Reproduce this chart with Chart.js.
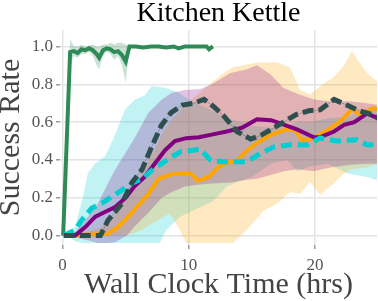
<!DOCTYPE html>
<html>
<head>
<meta charset="utf-8">
<script src="https://cdn.jsdelivr.net/npm/chart.js@4/dist/chart.umd.min.js"></script>
<style>
  html, body { margin: 0; padding: 0; background: #fff; }
  canvas { display: block; }
</style>
</head>
<body>
<canvas id="kettleChart" width="378" height="301"></canvas>
<script>
// tick labels
const xTicks = [0, 10, 20];
const yTicks = [0, 0.2, 0.4, 0.6, 0.8, 1.0];

// green (fast method)
const greenX = [0.05, 0.6, 0.9, 1.2, 1.5, 1.8, 2.1, 2.4, 2.7, 2.9, 3.2, 3.5, 3.8, 4.1, 4.4, 4.7, 5.0, 5.3, 5.8, 6.4, 7.0, 7.6, 8.2, 8.8, 9.2, 9.7, 10.3, 10.9, 11.4, 11.6, 11.9];
const greenMean = [0, 0.97, 0.975, 0.965, 0.985, 0.98, 0.99, 0.98, 0.96, 0.94, 0.98, 0.99, 0.985, 0.97, 0.975, 0.955, 0.92, 1.0, 1.0, 0.995, 1.0, 1.0, 0.995, 1.0, 0.99, 1.0, 1.0, 1.0, 1.0, 0.985, 1.0];
const greenLo = [0, 0.9, 0.95, 0.94, 0.96, 0.96, 0.97, 0.95, 0.9, 0.88, 0.95, 0.97, 0.96, 0.93, 0.95, 0.9, 0.81, 0.99, 0.995, 0.99, 0.995, 0.995, 0.99, 0.995, 0.985, 0.995, 0.995, 0.995, 0.995, 0.98, 0.995];
const greenHi = [0, 1.04, 1.0, 1.0, 1.01, 1.0, 1.005, 1.01, 1.0, 1.0, 1.01, 1.01, 1.02, 1.01, 1.02, 1.02, 1.01, 1.005, 1.005, 1.0, 1.005, 1.005, 1.0, 1.005, 0.995, 1.005, 1.005, 1.005, 1.005, 0.99, 1.005];

// dark slate dashed
const slateX = [0.1, 1, 2, 3, 3.6, 4.7, 5.5, 6.3, 7.0, 7.8, 8.6, 9.5, 10.4, 11.2, 12.0, 12.8, 13.8, 14.9, 15.7, 16.5, 17.5, 18.5, 19.5, 20.4, 21.5, 22.5, 23.5, 24.5, 25];
const slateMean = [0, 0, 0, 0, 0.08, 0.17, 0.28, 0.35, 0.46, 0.58, 0.65, 0.69, 0.70, 0.72, 0.68, 0.63, 0.55, 0.51, 0.53, 0.56, 0.60, 0.64, 0.66, 0.665, 0.72, 0.69, 0.66, 0.64, 0.62];

// purple
const purpleX = [0.1, 1, 1.8, 2.6, 3.4, 4.2, 5.0, 5.7, 6.5, 7.3, 8.1, 8.9, 9.8, 10.8, 11.9, 13.0, 14.2, 15.4, 16.5, 17.2, 18.6, 19.9, 20.4, 21.5, 22.3, 23.1, 24.1, 25];
const purpleMean = [0, 0, 0.045, 0.1, 0.126, 0.152, 0.2, 0.26, 0.31, 0.38, 0.45, 0.5, 0.515, 0.52, 0.535, 0.55, 0.57, 0.615, 0.61, 0.595, 0.56, 0.52, 0.52, 0.55, 0.585, 0.6, 0.645, 0.62];
const purpleBandX = [0.5, 1, 2, 2.8, 3.6, 4.15, 5.1, 5.74, 6.8, 7.86, 8.65, 9.7, 10.9, 11.8, 13.3, 14.6, 15.4, 16.5, 17.5, 18.6, 19.9, 21.2, 22.8, 24.1, 25];
const purpleLo = [0, -0.01, -0.025, -0.04, -0.04, -0.035, 0.0, 0.05, 0.12, 0.2, 0.23, 0.26, 0.27, 0.275, 0.28, 0.295, 0.3, 0.32, 0.34, 0.35, 0.34, 0.36, 0.374, 0.38, 0.38];
const purpleHi = [0, 0.02, 0.1, 0.17, 0.277, 0.347, 0.45, 0.52, 0.65, 0.72, 0.755, 0.77, 0.775, 0.8, 0.86, 0.88, 0.9, 0.85, 0.78, 0.75, 0.72, 0.71, 0.71, 0.70, 0.69];

// orange
const orangeX = [0.1, 1, 2, 2.8, 3.6, 4.4, 5.2, 6.0, 6.8, 7.6, 8.4, 9.3, 10.1, 10.7, 11.6, 12.3, 13.0, 13.8, 14.6, 15.4, 16.5, 17.6, 18.4, 19.0, 19.9, 20.9, 22.0, 22.9, 23.6, 24.6, 25];
const orangeMean = [0, 0, 0.005, 0.007, 0.01, 0.046, 0.1, 0.16, 0.22, 0.30, 0.32, 0.33, 0.33, 0.29, 0.31, 0.36, 0.385, 0.395, 0.45, 0.49, 0.533, 0.56, 0.56, 0.50, 0.516, 0.555, 0.604, 0.667, 0.64, 0.675, 0.665];
const orangeBandX = [0.5, 2, 3, 4, 5, 6, 7, 8, 8.5, 9.3, 9.8, 11, 12, 13, 13.5, 14.6, 15.4, 15.9, 17, 18, 18.8, 19.6, 20.4, 21.5, 22.3, 22.9, 24.1, 25];
const orangeLo = [0, 0, 0, 0, 0, 0.02, 0.06, 0.1, 0.117, 0.028, -0.04, -0.04, -0.04, -0.04, -0.04, 0.03, 0.09, 0.13, 0.17, 0.23, 0.22, 0.285, 0.214, 0.277, 0.33, 0.35, 0.36, 0.38];
const orangeHi = [0, 0.02, 0.04, 0.1, 0.2, 0.3, 0.42, 0.55, 0.6, 0.66, 0.7, 0.76, 0.82, 0.87, 0.89, 0.905, 0.915, 0.915, 0.915, 0.89, 0.77, 0.746, 0.79, 0.84, 0.9, 0.975, 0.86, 0.81];

// cyan dashed
const cyanX = [0.1, 1.0, 1.5, 2.3, 3.1, 3.9, 4.7, 5.5, 6.3, 7.1, 7.9, 8.7, 9.4, 10.2, 10.9, 11.7, 12.7, 13.6, 14.6, 15.7, 16.7, 18.0, 19.4, 20.4, 21.7, 23.3, 24.1, 25];
const cyanMean = [0, 0.03, 0.08, 0.144, 0.17, 0.205, 0.24, 0.277, 0.30, 0.347, 0.383, 0.418, 0.445, 0.45, 0.457, 0.40, 0.39, 0.39, 0.39, 0.436, 0.468, 0.48, 0.48, 0.516, 0.50, 0.507, 0.48, 0.48];
const cyanBandX = [0.3, 1.0, 1.6, 2.0, 2.56, 3.36, 4.15, 4.94, 5.74, 6.5, 7.06, 7.7, 8.2, 9.0, 9.3, 10.0, 10.6, 11.9, 13.0, 14.1, 15.0, 16.5, 17.8, 18.6, 19.6, 21.0, 22.5, 24.1, 25];
const cyanLo = [0, -0.03, -0.04, -0.04, -0.04, -0.04, -0.04, -0.04, -0.04, -0.04, -0.04, -0.04, 0.028, 0.08, 0.1, 0.12, 0.14, 0.18, 0.26, 0.29, 0.31, 0.38, 0.40, 0.34, 0.365, 0.38, 0.33, 0.31, 0.29];
const cyanHi = [0, 0.05, 0.2, 0.33, 0.38, 0.42, 0.53, 0.667, 0.72, 0.74, 0.79, 0.785, 0.78, 0.76, 0.75, 0.72, 0.70, 0.66, 0.62, 0.6, 0.58, 0.57, 0.58, 0.6, 0.6, 0.62, 0.63, 0.66, 0.68];

const FONT = "'Liberation Serif', 'Times New Roman', serif";

function pts(xs, ys) {
  return xs.map((x, i) => ({ x: x, y: ys[i] }));
}

function line(xs, ys, color, width, dash) {
  return {
    data: pts(xs, ys),
    borderColor: color,
    borderWidth: width,
    borderDash: dash || [],
    borderCapStyle: 'butt',
    pointRadius: 0,
    tension: 0,
    fill: false
  };
}

function band(xs, lo, hi, color) {
  return [
    { data: pts(xs, lo), borderWidth: 0, borderColor: 'transparent', pointRadius: 0, fill: false },
    { data: pts(xs, hi), borderWidth: 0, borderColor: 'transparent', pointRadius: 0, fill: '-1', backgroundColor: color }
  ];
}

function initChart() {
  const datasets = [
    line(slateX, slateMean, '#2f4f4f', 5, [11, 5]),
    line(cyanX, cyanMean, '#00ced1', 5, [11, 6]),
    line(purpleX, purpleMean, '#800080', 4),
    line(orangeX, orangeMean, '#ffa500', 4),
    line(greenX, greenMean, '#2e8b57', 4),
    line(slateX, slateMean, 'rgba(47,79,79,0.35)', 1)
  ].concat(
    band(greenX, greenLo, greenHi, 'rgba(46,139,87,0.25)'),
    band(purpleBandX, purpleLo, purpleHi, 'rgba(128,0,128,0.24)'),
    band(orangeBandX, orangeLo, orangeHi, 'rgba(255,165,0,0.24)'),
    band(cyanBandX, cyanLo, cyanHi, 'rgba(0,206,209,0.24)')
  );

  const ctx = document.getElementById('kettleChart').getContext('2d');
  new Chart(ctx, {
    type: 'line',
    data: { datasets: datasets },
    options: {
      responsive: false,
      animation: false,
      layout: { padding: { right: 1 } },
      plugins: {
        legend: { display: false },
        tooltip: { enabled: false },
        filler: { drawTime: 'beforeDatasetsDraw' },
        title: {
          display: true,
          text: 'Kitchen Kettle',
          color: '#000',
          fullSize: false,
          font: { family: FONT, size: 28, weight: 'normal', lineHeight: 0.6 },
          padding: { top: 5, bottom: 8.2 }
        }
      },
      scales: {
        x: {
          type: 'linear',
          min: -0.2,
          max: 24.9,
          afterBuildTicks: (s) => { s.ticks = xTicks.map(v => ({ value: v })); },
          afterFit: (s) => { s.height = 56; },
          border: { display: false },
          grid: { color: '#e4e4e4', lineWidth: 1.5, tickColor: '#9a9a9a', tickLength: 4, tickWidth: 1.5 },
          ticks: { color: '#555', font: { family: FONT, size: 17 }, padding: 6, maxRotation: 0, callback: (v) => String(v) },
          title: { display: true, text: 'Wall Clock Time (hrs)', color: '#444', font: { family: FONT, size: 30, lineHeight: 1 }, padding: { top: 0, bottom: 1 } }
        },
        y: {
          min: -0.05,
          max: 1.087,
          afterBuildTicks: (s) => { s.ticks = yTicks.map(v => ({ value: v })); },
          afterFit: (s) => { s.width = 60; },
          border: { display: false },
          grid: { color: '#e4e4e4', lineWidth: 1.5, tickColor: '#9a9a9a', tickLength: 4, tickWidth: 1.5 },
          ticks: { color: '#555', font: { family: FONT, size: 17 }, padding: 3, callback: (v) => v.toFixed(1) },
          title: { display: true, text: 'Success Rate', color: '#444', font: { family: FONT, size: 30, lineHeight: 0.77 }, padding: 0 }
        }
      }
    }
  });
}

window.addEventListener('DOMContentLoaded', initChart);
</script>
</body>
</html>
